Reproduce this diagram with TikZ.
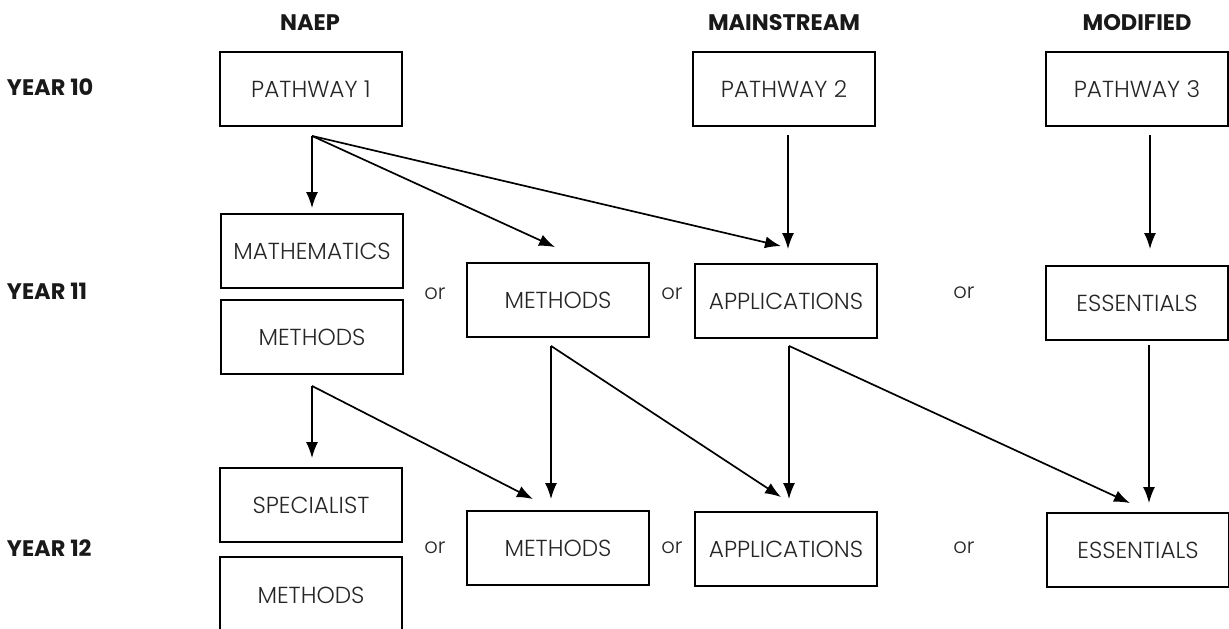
\documentclass[tikz,border=0pt]{standalone}
\usepackage{fontspec}
\setmainfont{Poppins}[UprightFont=* Light, BoldFont=* Bold]
\usetikzlibrary{arrows.meta,calc}

\begin{document}
\begin{tikzpicture}[x=0.025cm,y=-0.025cm,>={Latex[length=4mm,width=3mm]},
  box/.style={draw,line width=1.3pt,minimum width=4.55cm,minimum height=1.85cm,inner sep=0pt,font=\fontsize{16.5}{19}\selectfont,text=black!85},
  head/.style={font=\bfseries\fontsize{16}{19}\selectfont,text=black!90},
  orlbl/.style={font=\fontsize{15}{17}\selectfont,text=black!85},
  link/.style={->,line width=1.2pt}]
  \clip (0,0) rectangle (1229,629);
  % headings
  \node[head] (naep) at (310,23) {NAEP};
  \node[head] (mainstr) at (784,23) {MAINSTREAM};
  \node[head] (modif) at (1137,23) {MODIFIED};
  \node[head,anchor=west] (y10) at (2,87) {YEAR 10};
  \node[head,anchor=west] (y11) at (2,291) {YEAR 11};
  \node[head,anchor=west] (y12) at (2,548) {YEAR 12};
  % year 10
  \node[box] (p1) at (311,89) {PATHWAY 1};
  \node[box] (p2) at (784,89) {PATHWAY 2};
  \node[box] (p3) at (1137,89) {PATHWAY 3};
  % year 11
  \node[box] (maths) at (312,251) {MATHEMATICS};
  \node[box] (methA) at (312,337) {METHODS};
  \node[box] (methB) at (558,300) {METHODS};
  \node[box] (applA) at (786,301) {APPLICATIONS};
  \node[box] (essA) at (1137,303) {ESSENTIALS};
  \node[orlbl] (or1) at (435,294) {or};
  \node[orlbl] (or2) at (672,294) {or};
  \node[orlbl] (or3) at (964,293) {or};
  % year 12
  \node[box] (spec) at (311,505) {SPECIALIST};
  \node[box,minimum height=1.9cm] (methC) at (311,595) {METHODS};
  \node[box] (methD) at (558,548) {METHODS};
  \node[box] (applB) at (786,549) {APPLICATIONS};
  \node[box] (essB) at (1138,550) {ESSENTIALS};
  \node[orlbl] (or4) at (435,548) {or};
  \node[orlbl] (or5) at (672,548) {or};
  \node[orlbl] (or6) at (964,548) {or};
  % arrow starts
  \coordinate (p1o) at ($(p1.south)+(1,9)$);
  \coordinate (p2o) at ($(p2.south)+(4,8)$);
  \coordinate (p3o) at ($(p3.south)+(13,8)$);
  \coordinate (methAo) at ($(methA.south)+(0,11)$);
  \coordinate (methBo) at ($(methB.south)+(-7,8)$);
  \coordinate (applAo) at ($(applA.south)+(3,7)$);
  \coordinate (essAo) at ($(essA.south)+(12,4)$);
  % year 10 to year 11
  \draw[link] (p1o) -- ($(p1o |- maths.north)+(0,-5)$);
  \draw[link] (p1o) -- ($(methB.north)+(-3,-15)$);
  \draw[link] (p1o) -- ($(applA.north)+(-5,-17)$);
  \draw[link] (p2o) -- ($(p2o |- applA.north)+(0,-14)$);
  \draw[link] (p3o) -- ($(p3o |- essA.north)+(0,-16)$);
  % year 11 to year 12
  \draw[link] (methAo) -- ($(methAo |- spec.north)+(0,-9)$);
  \draw[link] (methAo) -- ($(methD.north)+(-25,-11)$);
  \draw[link] (methBo) -- ($(methBo |- methD.north)+(0,-11)$);
  \draw[link] (methBo) -- ($(applB.north)+(-5,-14)$);
  \draw[link] (applAo) -- ($(applAo |- applB.north)+(0,-12)$);
  \draw[link] (applAo) -- ($(essB.north)+(-8,-9)$);
  \draw[link] (essAo) -- ($(essAo |- essB.north)+(0,-9)$);
\end{tikzpicture}
\end{document}
